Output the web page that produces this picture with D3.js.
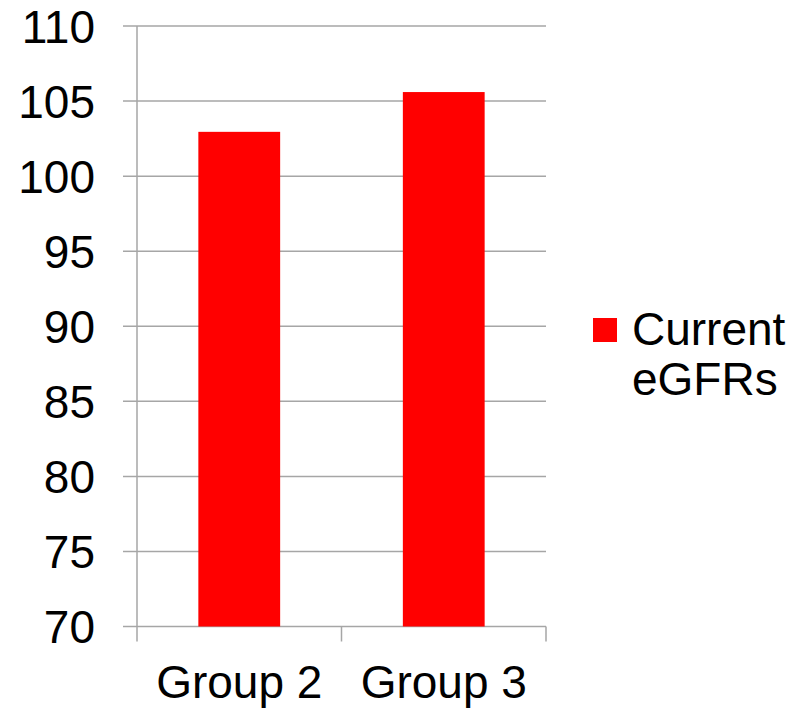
<!DOCTYPE html>
<html>
<head>
<meta charset="utf-8">
<script src="https://cdn.jsdelivr.net/npm/d3@7"></script>
<style>
  body { margin: 0; background: #fff; }
  text { font-family: "Liberation Sans", Arial, sans-serif; fill: #000; }
</style>
</head>
<body>
<div id="chart"></div>
<script>
const categories = ['Group 2', 'Group 3'];
const values = [102.95, 105.6];
const yTicks = [70, 75, 80, 85, 90, 95, 100, 105, 110];
const seriesName = ['Current', 'eGFRs'];

const width = 807;
const height = 708;
const plot = { left: 137, right: 546, top: 26, bottom: 626.5 };
const gridColor = '#a6a6a6';

const svg = d3.select('#chart')
  .append('svg')
  .attr('width', width)
  .attr('height', height);

const x = d3.scaleBand()
  .domain(categories)
  .range([plot.left, plot.right])
  .paddingInner(0.6)
  .paddingOuter(0.3);

const y = d3.scaleLinear()
  .domain([70, 110])
  .range([plot.bottom, plot.top]);

// horizontal gridlines (they also act as the y tick marks)
svg.append('g')
  .selectAll('line')
  .data(yTicks)
  .join('line')
  .attr('x1', plot.left - 14)
  .attr('x2', plot.right)
  .attr('y1', d => y(d))
  .attr('y2', d => y(d))
  .attr('stroke', gridColor)
  .attr('stroke-width', 1.5);

// bars
svg.append('g')
  .attr('fill', '#ff0000')
  .selectAll('rect')
  .data(values)
  .join('rect')
  .attr('x', (d, i) => x(categories[i]))
  .attr('y', d => y(d))
  .attr('width', x.bandwidth())
  .attr('height', d => y(70) - y(d));

// y axis line
svg.append('line')
  .attr('x1', plot.left).attr('x2', plot.left)
  .attr('y1', plot.top).attr('y2', plot.bottom)
  .attr('stroke', gridColor)
  .attr('stroke-width', 1.5);

// x axis ticks at the category boundaries
const step = x.step();
const bounds = d3.range(categories.length + 1).map(i => plot.left + i * step);
svg.append('g')
  .selectAll('line')
  .data(bounds)
  .join('line')
  .attr('x1', d => d).attr('x2', d => d)
  .attr('y1', plot.bottom).attr('y2', plot.bottom + 15)
  .attr('stroke', gridColor)
  .attr('stroke-width', 1.5);

// y tick labels
svg.append('g')
  .selectAll('text')
  .data(yTicks)
  .join('text')
  .attr('x', 95)
  .attr('y', d => y(d))
  .attr('dy', '0.36em')
  .attr('text-anchor', 'end')
  .style('font-size', '46px')
  .text(d => d);

// x labels
svg.append('g')
  .selectAll('text')
  .data(categories)
  .join('text')
  .attr('x', d => x(d) + x.bandwidth() / 2)
  .attr('y', 698)
  .attr('text-anchor', 'middle')
  .style('font-size', '46px')
  .text(d => d);

// legend
const legend = svg.append('g');
legend.append('rect')
  .attr('x', 593).attr('y', 318)
  .attr('width', 24).attr('height', 24)
  .attr('fill', '#ff0000');
legend.append('text')
  .attr('x', 632)
  .attr('y', 345)
  .style('font-size', '46px')
  .selectAll('tspan')
  .data(seriesName)
  .join('tspan')
  .attr('x', 632)
  .attr('dy', (d, i) => i === 0 ? 0 : 50)
  .text(d => d);
</script>
</body>
</html>
